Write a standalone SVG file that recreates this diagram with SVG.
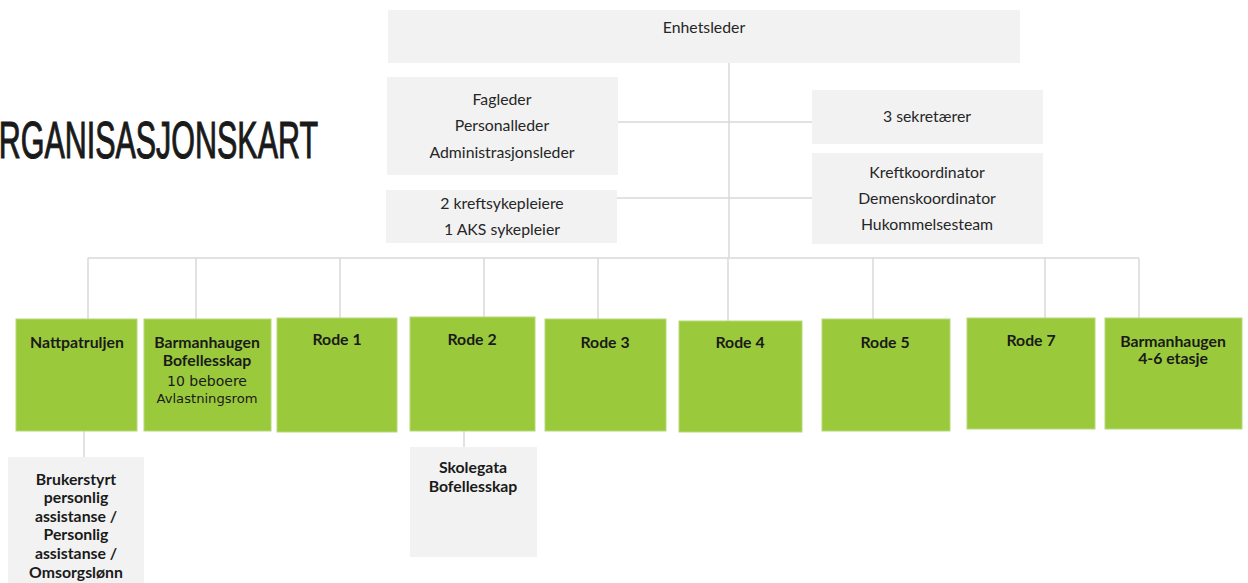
<svg xmlns="http://www.w3.org/2000/svg" width="1248" height="583" viewBox="0 0 1248 583">
<style>
.g{fill:#F2F2F2}
.gr{fill:#9ACA3C;stroke:#B5D97A;stroke-width:1}
.c{stroke:#D9D9D9;stroke-width:1.5;fill:none}
.t{font-family:Lato,"Liberation Sans",sans-serif;font-size:15.8px;fill:#262626;text-anchor:middle}
.b{font-family:Lato,"Liberation Sans",sans-serif;font-size:15.8px;font-weight:bold;fill:#1a1a1a;text-anchor:middle}
.w{font-family:"DejaVu Sans",sans-serif;fill:#1a1a1a;text-anchor:middle}
</style>
<rect width="1248" height="583" fill="#ffffff"/>
<text x="-25" y="158" font-family="'Liberation Sans',sans-serif" font-size="52" fill="#1a1a1a" stroke="#1a1a1a" stroke-width="1.1" textLength="343" lengthAdjust="spacingAndGlyphs">ORGANISASJONSKART</text>
<g id="connectors">
<path class="c" d="M729 63V258M618 122H812M606 198H812M88 258H1139"/>
<path class="c" d="M88 258V319M196 258V319M340 258V318M484 258V317M598 258V319M728 258V321M873 258V319M1045 258V318M1139 258V318"/>
<path class="c" d="M84 431V457M464 431V447"/>
</g>
<g id="enhetsleder"><rect class="g" x="388" y="10" width="632" height="53"/><text class="t" x="704" y="33">Enhetsleder</text></g>
<g id="fagleder"><rect class="g" x="387" y="77" width="231" height="98"/><text class="t" x="502" y="105">Fagleder</text><text class="t" x="502" y="131">Personalleder</text><text class="t" x="502" y="158">Administrasjonsleder</text></g>
<g id="kreftsykepleiere"><rect class="g" x="386" y="190" width="231" height="53"/><text class="t" x="502" y="209">2 kreftsykepleiere</text><text class="t" x="502" y="235">1 AKS sykepleier</text></g>
<g id="sekretaerer"><rect class="g" x="812" y="90" width="231" height="54"/><text class="t" x="927" y="122">3 sekretærer</text></g>
<g id="koordinator"><rect class="g" x="812" y="153" width="231" height="91"/><text class="t" x="927" y="178">Kreftkoordinator</text><text class="t" x="927" y="204">Demenskoordinator</text><text class="t" x="927" y="230">Hukommelsesteam</text></g>
<g id="nattpatruljen"><rect class="gr" x="16" y="319" width="121" height="112"/><text class="b" x="77" y="348">Nattpatruljen</text></g>
<g id="barmanhaugen-bofellesskap"><rect class="gr" x="144" y="319" width="127" height="112"/><text class="b" x="207" y="348">Barmanhaugen</text><text class="b" x="207" y="366">Bofellesskap</text><text class="w" x="207" y="386" font-size="14">10 beboere</text><text class="w" x="207" y="403" font-size="12" textLength="101" lengthAdjust="spacingAndGlyphs">Avlastningsrom</text></g>
<g id="rode1"><rect class="gr" x="277" y="318" width="120" height="114"/><text class="b" x="337" y="345">Rode 1</text></g>
<g id="rode2"><rect class="gr" x="410" y="317" width="125" height="114"/><text class="b" x="472" y="345">Rode 2</text></g>
<g id="rode3"><rect class="gr" x="545" y="319" width="121" height="112"/><text class="b" x="605" y="348">Rode 3</text></g>
<g id="rode4"><rect class="gr" x="679" y="321" width="123" height="111"/><text class="b" x="740" y="348">Rode 4</text></g>
<g id="rode5"><rect class="gr" x="822" y="319" width="128" height="112"/><text class="b" x="885" y="348">Rode 5</text></g>
<g id="rode7"><rect class="gr" x="967" y="318" width="128" height="111"/><text class="b" x="1031" y="346">Rode 7</text></g>
<g id="barmanhaugen-etasje"><rect class="gr" x="1105" y="318" width="137" height="111"/><text class="b" x="1173" y="347">Barmanhaugen</text><text class="b" x="1173" y="364">4-6 etasje</text></g>
<g id="brukerstyrt"><rect class="g" x="8" y="457" width="136" height="130"/><text class="b" x="76" y="485">Brukerstyrt</text><text class="b" x="76" y="503">personlig</text><text class="b" x="76" y="522">assistanse /</text><text class="b" x="76" y="540">Personlig</text><text class="b" x="76" y="559">assistanse /</text><text class="b" x="76" y="578">Omsorgslønn</text></g>
<g id="skolegata"><rect class="g" x="410" y="447" width="127" height="110"/><text class="b" x="473" y="473">Skolegata</text><text class="b" x="473" y="492">Bofellesskap</text></g>
</svg>
